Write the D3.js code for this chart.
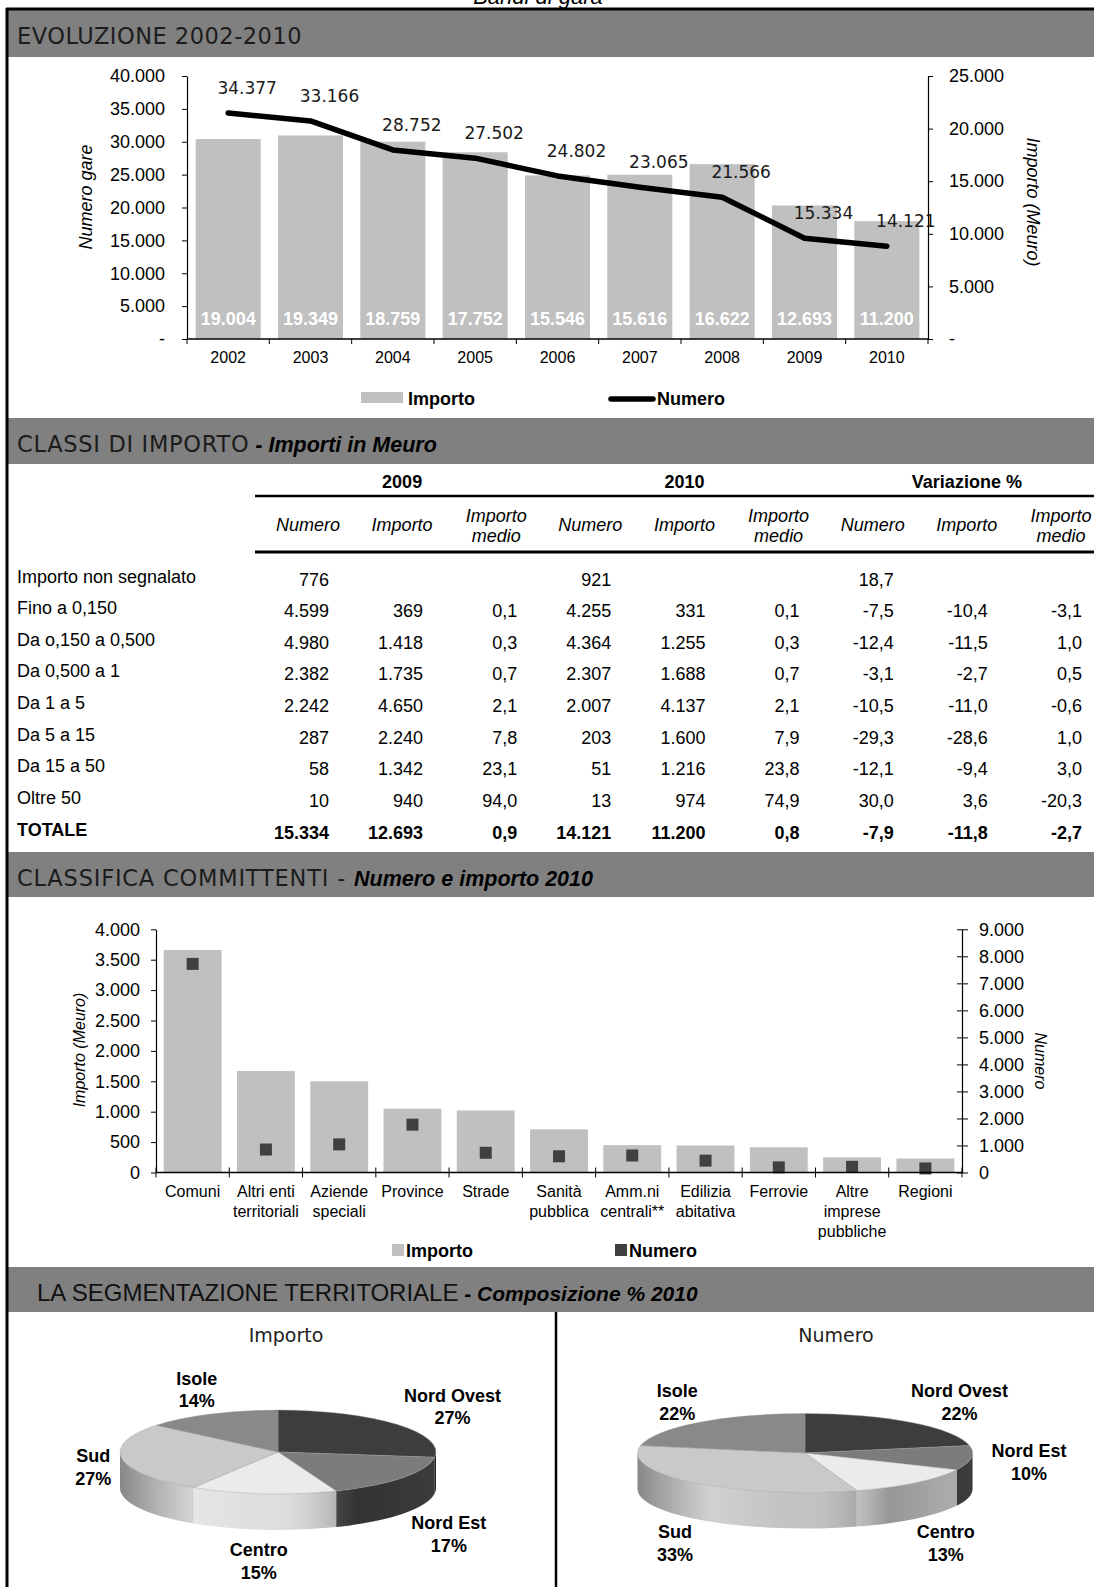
<!DOCTYPE html>
<html lang="it">
<head>
<meta charset="utf-8">
<title>Bandi di gara</title>
<script src="https://cdn.jsdelivr.net/npm/d3@7/dist/d3.min.js"></script>
<style>
  html, body { margin:0; padding:0; background:#fff; }
  svg { display:block; }
</style>
</head>
<body>
<svg id="chart" width="1094" height="1587" xmlns="http://www.w3.org/2000/svg"></svg>
<script>
// ================= DATA =================
const anni = ["2002","2003","2004","2005","2006","2007","2008","2009","2010"];
const importoAnni = [19004,19349,18759,17752,15546,15616,16622,12693,11200];
const numeroAnni  = [34377,33166,28752,27502,24802,23065,21566,15334,14121];
const ticksNumeroGare   = [0,5000,10000,15000,20000,25000,30000,35000,40000];
const ticksImportoMeuro = [0,5000,10000,15000,20000,25000];

const classi = ["Importo non segnalato","Fino a 0,150","Da o,150 a 0,500","Da 0,500 a 1","Da 1 a 5","Da 5 a 15","Da 15 a 50","Oltre 50","TOTALE"];
const numero2009  = [776,4599,4980,2382,2242,287,58,10,15334];
const importo2009 = [null,369,1418,1735,4650,2240,1342,940,12693];
const medio2009   = [null,0.1,0.3,0.7,2.1,7.8,23.1,94.0,0.9];
const numero2010  = [921,4255,4364,2307,2007,203,51,13,14121];
const importo2010 = [null,331,1255,1688,4137,1600,1216,974,11200];
const medio2010   = [null,0.1,0.3,0.7,2.1,7.9,23.8,74.9,0.8];
const varNumero   = [18.7,-7.5,-12.4,-3.1,-10.5,-29.3,-12.1,30.0,-7.9];
const varImporto  = [null,-10.4,-11.5,-2.7,-11.0,-28.6,-9.4,3.6,-11.8];
const varMedio    = [null,-3.1,1.0,0.5,-0.6,1.0,3.0,-20.3,-2.7];
const gruppi = ["2009","2010","Variazione %"];
const sottoTitoli = [["Numero"],["Importo"],["Importo","medio"]];

const committenti = [["Comuni"],["Altri enti","territoriali"],["Aziende","speciali"],["Province"],["Strade"],["Sanità","pubblica"],["Amm.ni","centrali**"],["Edilizia","abitativa"],["Ferrovie"],["Altre","imprese","pubbliche"],["Regioni"]];
const importoCommittenti = [3660,1670,1500,1050,1020,710,450,445,415,250,230];
const numeroCommittenti  = [7720,850,1040,1770,730,600,630,440,190,210,150];
const ticksImportoComm = [0,500,1000,1500,2000,2500,3000,3500,4000];
const ticksNumeroComm  = [0,1000,2000,3000,4000,5000,6000,7000,8000,9000];

const regioni = ["Nord Ovest","Nord Est","Centro","Sud","Isole"];
const quoteImporto = [27,17,15,27,14];
const quoteNumero  = [22,10,13,33,22];

// ================= HELPERS =================
const SANS  = "'Liberation Sans', Arial, Helvetica, sans-serif";
const LIGHT = "'DejaVu Sans', Verdana, sans-serif";
const it = d3.formatLocale({decimal:",", thousands:".", grouping:[3], currency:["","€"], minus:"-"});
const fInt = it.format(",.0f");
const f1 = it.format(",.1f");

const svg = d3.select("#chart");
svg.append("rect").attr("width",1094).attr("height",1587).attr("fill","#fff");

function addText(parent, x, y, str, o = {}) {
  const t = parent.append("text").attr("x", x).attr("y", y).text(str)
    .attr("font-family", o.family || SANS).attr("font-size", o.size || 18)
    .attr("fill", o.fill || "#000").attr("text-anchor", o.anchor || "start");
  if (o.weight) t.attr("font-weight", o.weight);
  if (o.style) t.attr("font-style", o.style);
  if (o.transform) t.attr("transform", o.transform);
  return t;
}
function styleAxis(g, size) {
  g.attr("font-family", SANS).attr("font-size", size);
  g.selectAll(".domain").attr("stroke", "#000").attr("stroke-width", 1.2);
  g.selectAll(".tick line").attr("stroke", "#000").attr("stroke-width", 1);
  g.selectAll(".tick text").attr("fill", "#000");
}

// page title (partially cut by the frame, as in the source)
addText(svg, 538, 4, "Bandi di gara", {anchor:"middle", style:"italic", size:22});

// ================= HEADER BANDS =================
function header(y, h, x, parts) {
  svg.append("rect").attr("x", 8).attr("y", y).attr("width", 1086).attr("height", h).attr("fill", "#808080");
  const t = svg.append("text").attr("x", x).attr("y", y + 33.5);
  parts.forEach(p => {
    t.append("tspan").text(p.t).attr("font-family", p.f).attr("font-size", p.s)
      .attr("font-weight", p.w || 400).attr("font-style", p.i ? "italic" : "normal")
      .attr("letter-spacing", p.ls || 0)
      .attr("fill", p.c || "#1c1c1c");
  });
}
header(10, 47, 17, [{t:"EVOLUZIONE 2002-2010", f:LIGHT, s:22.5, ls:0.5}]);
header(418, 46, 17, [{t:"CLASSI DI IMPORTO", f:LIGHT, s:22.5, ls:0.7}, {t:" - Importi in Meuro", f:SANS, s:21.5, w:700, i:true, c:"#000"}]);
header(852, 45, 17, [{t:"CLASSIFICA COMMITTENTI - ", f:LIGHT, s:22.5, ls:0.8}, {t:"Numero e importo 2010", f:SANS, s:21.5, w:700, i:true, c:"#000"}]);
header(1267, 45, 37, [{t:"LA SEGMENTAZIONE TERRITORIALE", f:SANS, s:24, w:400, c:"#111"}, {t:" - Composizione % 2010", f:SANS, s:21, w:700, i:true, c:"#000"}]);

// frame
svg.append("line").attr("x1", 7).attr("x2", 7).attr("y1", 8).attr("y2", 1587).attr("stroke", "#000").attr("stroke-width", 3);
svg.append("line").attr("x1", 6).attr("x2", 1094).attr("y1", 9).attr("y2", 9).attr("stroke", "#000").attr("stroke-width", 3);

// ================= CHART 1: EVOLUZIONE =================
{
  const g = svg.append("g");
  const x = d3.scaleBand().domain(anni).range([187, 928]).paddingInner(0.21).paddingOuter(0.105);
  const yN = d3.scaleLinear().domain([0, 40000]).range([339, 76]);
  const yI = d3.scaleLinear().domain([0, 25000]).range([339, 76]);
  const cx = d => x(d) + x.bandwidth() / 2;

  g.selectAll("rect.bar").data(anni).join("rect").attr("class", "bar")
    .attr("x", d => x(d)).attr("width", x.bandwidth())
    .attr("y", (d, i) => yI(importoAnni[i])).attr("height", (d, i) => yI(0) - yI(importoAnni[i]))
    .attr("fill", "#c0c0c0");

  g.selectAll("text.blab").data(anni).join("text").attr("class", "blab")
    .attr("x", cx).attr("y", yI(0) - 14).attr("text-anchor", "middle")
    .attr("font-family", SANS).attr("font-size", 18).attr("font-weight", 700).attr("fill", "#fff")
    .text((d, i) => fInt(importoAnni[i]));

  // x axis
  g.append("line").attr("x1", x.range()[0]).attr("x2", x.range()[1]).attr("y1", yN(0)).attr("y2", yN(0))
    .attr("stroke", "#000").attr("stroke-width", 1.5);
  const bounds = anni.map(d => x(d) - x.step() * x.paddingInner() / 2).concat([x.range()[1]]);
  g.selectAll("line.xt").data(bounds).join("line").attr("class", "xt")
    .attr("x1", d => d).attr("x2", d => d).attr("y1", yN(0)).attr("y2", yN(0) + 5)
    .attr("stroke", "#000").attr("stroke-width", 1);
  g.selectAll("text.xl").data(anni).join("text").attr("class", "xl")
    .attr("x", cx).attr("y", 363).attr("text-anchor", "middle")
    .attr("font-family", SANS).attr("font-size", 16).attr("fill", "#000").text(d => d);

  // line
  const line = d3.line().x((d, i) => cx(anni[i])).y(d => yN(d));
  g.append("path").datum(numeroAnni).attr("d", line).attr("fill", "none")
    .attr("stroke", "#000").attr("stroke-width", 5.5).attr("stroke-linejoin", "round").attr("stroke-linecap", "round");
  g.selectAll("text.llab").data(numeroAnni).join("text").attr("class", "llab")
    .attr("x", (d, i) => cx(anni[i]) + 19).attr("y", d => yN(d) - 19).attr("text-anchor", "middle")
    .attr("font-family", LIGHT).attr("font-size", 17).attr("fill", "#1a1a1a").text(d => fInt(d));

  // axes
  const aL = g.append("g").attr("transform", `translate(${x.range()[0]},0)`)
    .call(d3.axisLeft(yN).tickValues(ticksNumeroGare).tickSize(5).tickSizeOuter(0).tickPadding(17)
      .tickFormat(d => d === 0 ? "-" : fInt(d)));
  styleAxis(aL, 18);
  const aR = g.append("g").attr("transform", `translate(${x.range()[1]},0)`)
    .call(d3.axisRight(yI).tickValues(ticksImportoMeuro).tickSize(5).tickSizeOuter(0).tickPadding(16)
      .tickFormat(d => d === 0 ? "-" : fInt(d)));
  styleAxis(aR, 18);

  addText(g, 0, 0, "Numero gare", {anchor:"middle", style:"italic", size:18, transform:"translate(92,197) rotate(-90)"});
  addText(g, 0, 0, "Importo (Meuro)", {anchor:"middle", style:"italic", size:18, transform:"translate(1027,202) rotate(90)"});

  // legend
  g.append("rect").attr("x", 361).attr("y", 392).attr("width", 42).attr("height", 11).attr("fill", "#c0c0c0");
  addText(g, 408, 405, "Importo", {weight:700, size:18});
  g.append("line").attr("x1", 611).attr("x2", 653).attr("y1", 399).attr("y2", 399)
    .attr("stroke", "#000").attr("stroke-width", 5.5).attr("stroke-linecap", "round");
  addText(g, 657, 405, "Numero", {weight:700, size:18});
}

// ================= TABLE: CLASSI DI IMPORTO =================
{
  const g = svg.append("g");
  const colR = d3.scaleLinear().domain([0, 8]).range([329, 1082]);
  const rowY = d3.scaleLinear().domain([0, classi.length - 1]).range([579, 832]);
  const cols = [numero2009, importo2009, medio2009, numero2010, importo2010, medio2010, varNumero, varImporto, varMedio];
  const fmts = [fInt, fInt, f1, fInt, fInt, f1, f1, f1, f1];

  gruppi.forEach((gr, k) => addText(g, colR(k * 3 + 1) - 21, 487.5, gr, {anchor:"middle", weight:700, size:18}));
  g.append("line").attr("x1", 255).attr("x2", 1094).attr("y1", 496).attr("y2", 496).attr("stroke", "#000").attr("stroke-width", 2.5);
  g.append("line").attr("x1", 255).attr("x2", 1094).attr("y1", 552).attr("y2", 552).attr("stroke", "#000").attr("stroke-width", 3);

  cols.forEach((c, ci) => {
    const sh = sottoTitoli[ci % 3];
    const xc = colR(ci) - 21;
    if (sh.length === 1) addText(g, xc, 530.5, sh[0], {anchor:"middle", style:"italic", size:18});
    else sh.forEach((s, j) => addText(g, xc, 521.5 + j * 20, s, {anchor:"middle", style:"italic", size:18}));
  });

  classi.forEach((lab, ri) => {
    const bold = ri === classi.length - 1 ? 700 : null;
    addText(g, 17, rowY(ri) + 3.5, lab, {size:18, weight:bold});
    cols.forEach((c, ci) => {
      if (c[ri] === null) return;
      addText(g, colR(ci), rowY(ri) + 6.5, fmts[ci](c[ri]), {anchor:"end", size:18, weight:bold});
    });
  });
}

// ================= CHART 3: CLASSIFICA COMMITTENTI =================
{
  const g = svg.append("g");
  const names = committenti.map(d => d.join(" "));
  const x = d3.scaleBand().domain(names).range([156, 962]).paddingInner(0.21).paddingOuter(0.105);
  const yI = d3.scaleLinear().domain([0, 4000]).range([1172.5, 929.3]);
  const yN = d3.scaleLinear().domain([0, 9000]).range([1172.5, 929.3]);
  const cx = d => x(d) + x.bandwidth() / 2;

  g.selectAll("rect.bar").data(names).join("rect").attr("class", "bar")
    .attr("x", d => x(d)).attr("width", x.bandwidth())
    .attr("y", (d, i) => yI(importoCommittenti[i])).attr("height", (d, i) => yI(0) - yI(importoCommittenti[i]))
    .attr("fill", "#c0c0c0");

  g.selectAll("rect.mk").data(names).join("rect").attr("class", "mk")
    .attr("x", d => cx(d) - 6).attr("y", (d, i) => yN(numeroCommittenti[i]) - 6)
    .attr("width", 12).attr("height", 12).attr("fill", "#404040");

  // x axis
  g.append("line").attr("x1", x.range()[0]).attr("x2", x.range()[1]).attr("y1", yI(0)).attr("y2", yI(0))
    .attr("stroke", "#000").attr("stroke-width", 1.5);
  const bounds = names.map(d => x(d) - x.step() * x.paddingInner() / 2).concat([x.range()[1]]);
  g.selectAll("line.xt").data(bounds).join("line").attr("class", "xt")
    .attr("x1", d => d).attr("x2", d => d).attr("y1", yI(0) - 5).attr("y2", yI(0) + 5)
    .attr("stroke", "#000").attr("stroke-width", 1);
  committenti.forEach((lines, i) => {
    lines.forEach((s, j) => addText(g, cx(names[i]), 1197 + j * 20, s, {anchor:"middle", size:16}));
  });

  const aL = g.append("g").attr("transform", `translate(${x.range()[0]},0)`)
    .call(d3.axisLeft(yI).tickValues(ticksImportoComm).tickSize(5).tickSizeOuter(0).tickPadding(11)
      .tickFormat(d => fInt(d)));
  styleAxis(aL, 18);
  const aR = g.append("g").attr("transform", `translate(${x.range()[1]},0)`)
    .call(d3.axisRight(yN).tickValues(ticksNumeroComm).tickSize(6).tickSizeOuter(0).tickPadding(11)
      .tickFormat(d => fInt(d)));
  aR.selectAll(".tick line").attr("x1", -5);
  styleAxis(aR, 18);

  addText(g, 0, 0, "Importo (Meuro)", {anchor:"middle", style:"italic", size:16, transform:"translate(85,1050) rotate(-90)"});
  addText(g, 0, 0, "Numero", {anchor:"middle", style:"italic", size:16, transform:"translate(1035,1061) rotate(90)"});

  // legend
  g.append("rect").attr("x", 392).attr("y", 1244).attr("width", 12).attr("height", 12).attr("fill", "#c0c0c0");
  addText(g, 406, 1256.5, "Importo", {weight:700, size:18});
  g.append("rect").attr("x", 615).attr("y", 1244).attr("width", 12).attr("height", 12).attr("fill", "#404040");
  addText(g, 629, 1256.5, "Numero", {weight:700, size:18});
}

// ================= PIES: SEGMENTAZIONE TERRITORIALE =================
svg.append("line").attr("x1", 556).attr("x2", 556).attr("y1", 1312).attr("y2", 1587).attr("stroke", "#000").attr("stroke-width", 2.5);

const topColors  = ["#3d3d3d", "#7c7c7c", "#ebebeb", "#c9c9c9", "#898989"];
const sideColors = ["#2e2e2e", "#4a4a4a", "#dedede", "#c2c2c2", "#7a7a7a"];
const defs = svg.append("defs");

function pie3d(id, title, titleX, values, cx, cy, rx, ry, depth) {
  const g = svg.append("g");
  const grad = defs.append("linearGradient").attr("id", "shade" + id)
    .attr("gradientUnits", "userSpaceOnUse").attr("x1", cx - rx).attr("x2", cx + rx).attr("y1", 0).attr("y2", 0);
  [[0, "#000", 0.3], [0.22, "#fff", 0.25], [0.45, "#fff", 0], [0.75, "#000", 0.32], [1, "#000", 0.2]]
    .forEach(s => grad.append("stop").attr("offset", s[0]).attr("stop-color", s[1]).attr("stop-opacity", s[2]));

  const arcs = d3.pie().sort(null).startAngle(0).endAngle(2 * Math.PI)(values);
  const P = (a, dy = 0) => [cx + rx * Math.sin(a), cy - ry * Math.cos(a) + dy];

  // side walls (front half only)
  arcs.forEach((d, i) => {
    const a0 = Math.max(d.startAngle, Math.PI / 2), a1 = Math.min(d.endAngle, 3 * Math.PI / 2);
    if (a1 <= a0) return;
    const p0 = P(a0), p1 = P(a1), q1 = P(a1, depth), q0 = P(a0, depth);
    const path = `M${p0}A${rx},${ry} 0 0 1 ${p1}L${q1}A${rx},${ry} 0 0 0 ${q0}Z`;
    g.append("path").attr("d", path).attr("fill", sideColors[i]);
    g.append("path").attr("d", path).attr("fill", `url(#shade${id})`);
  });
  // top faces
  arcs.forEach((d, i) => {
    const p0 = P(d.startAngle), p1 = P(d.endAngle);
    const large = d.endAngle - d.startAngle > Math.PI ? 1 : 0;
    g.append("path").attr("d", `M${cx},${cy}L${p0}A${rx},${ry} 0 ${large} 1 ${p1}Z`)
      .attr("fill", topColors[i]).attr("stroke", "#9a9a9a").attr("stroke-width", 0.4);
  });

  // labels placed outside the pie silhouette, aware of their own width
  arcs.forEach((d, i) => {
    const m = (d.startAngle + d.endAngle) / 2;
    const s = Math.sin(m), c = Math.cos(m);
    const t1 = addText(g, 0, 0, regioni[i], {anchor:"middle", weight:700, size:18});
    const t2 = addText(g, 0, 0, values[i] + "%", {anchor:"middle", weight:700, size:18});
    const hw = Math.max(t1.node().getComputedTextLength(), t2.node().getComputedTextLength()) / 2;
    const lx = cx + (rx + 2 + 1.5 * hw) * s;
    const front = c < 0 ? (depth + 4) * Math.min(1, Math.max(0, 3 * (-c - 0.12))) : 0;
    const ly = cy - (ry + 27) * c + front;
    t1.attr("x", lx).attr("y", ly - 4.8);
    t2.attr("x", lx).attr("y", ly + 17.9);
  });

  addText(g, titleX, 1342, title, {anchor:"middle", family:LIGHT, size:19, fill:"#222"});
}
pie3d("I", "Importo", 286, quoteImporto, 278, 1452, 158, 42, 36);
pie3d("N", "Numero", 836, quoteNumero, 805, 1453, 167.5, 39.5, 36);
</script>
</body>
</html>
